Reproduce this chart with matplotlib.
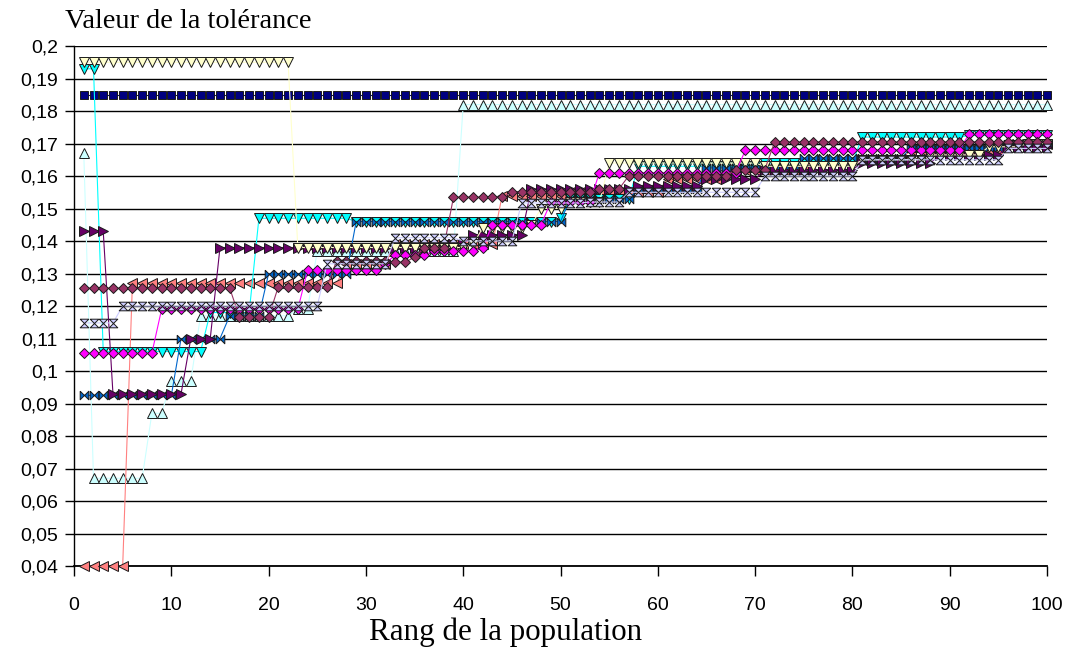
import numpy as np
import matplotlib
matplotlib.use("Agg")
import matplotlib.pyplot as plt

# rang de la population (1..100)
rang = list(range(1, 101))

y_ticks = [0.04, 0.05, 0.06, 0.07, 0.08, 0.09, 0.10, 0.11, 0.12, 0.13,
           0.14, 0.15, 0.16, 0.17, 0.18, 0.19, 0.20]
y_labels = ["0,04", "0,05", "0,06", "0,07", "0,08", "0,09", "0,1", "0,11",
            "0,12", "0,13", "0,14", "0,15", "0,16", "0,17", "0,18", "0,19", "0,2"]
x_ticks = [0, 10, 20, 30, 40, 50, 60, 70, 80, 90, 100]

navy_sq = [
    0.185, 0.185, 0.185, 0.185, 0.185, 0.185, 0.185, 0.185, 0.185, 0.185,
    0.185, 0.185, 0.185, 0.185, 0.185, 0.185, 0.185, 0.185, 0.185, 0.185,
    0.185, 0.185, 0.185, 0.185, 0.185, 0.185, 0.185, 0.185, 0.185, 0.185,
    0.185, 0.185, 0.185, 0.185, 0.185, 0.185, 0.185, 0.185, 0.185, 0.185,
    0.185, 0.185, 0.185, 0.185, 0.185, 0.185, 0.185, 0.185, 0.185, 0.185,
    0.185, 0.185, 0.185, 0.185, 0.185, 0.185, 0.185, 0.185, 0.185, 0.185,
    0.185, 0.185, 0.185, 0.185, 0.185, 0.185, 0.185, 0.185, 0.185, 0.185,
    0.185, 0.185, 0.185, 0.185, 0.185, 0.185, 0.185, 0.185, 0.185, 0.185,
    0.185, 0.185, 0.185, 0.185, 0.185, 0.185, 0.185, 0.185, 0.185, 0.185,
    0.185, 0.185, 0.185, 0.185, 0.185, 0.185, 0.185, 0.185, 0.185, 0.185]

lightcyan_up = [
    0.167, 0.067, 0.067, 0.067, 0.067, 0.067, 0.067, 0.087, 0.087, 0.097,
    0.097, 0.097, 0.117, 0.117, 0.117, 0.117, 0.117, 0.117, 0.117, 0.117,
    0.117, 0.117, 0.119, 0.119, 0.137, 0.137, 0.137, 0.137, 0.137, 0.137,
    0.137, 0.137, 0.137, 0.137, 0.137, 0.137, 0.137, 0.137, 0.137, 0.182,
    0.182, 0.182, 0.182, 0.182, 0.182, 0.182, 0.182, 0.182, 0.182, 0.182,
    0.182, 0.182, 0.182, 0.182, 0.182, 0.182, 0.182, 0.182, 0.182, 0.182,
    0.182, 0.182, 0.182, 0.182, 0.182, 0.182, 0.182, 0.182, 0.182, 0.182,
    0.182, 0.182, 0.182, 0.182, 0.182, 0.182, 0.182, 0.182, 0.182, 0.182,
    0.182, 0.182, 0.182, 0.182, 0.182, 0.182, 0.182, 0.182, 0.182, 0.182,
    0.182, 0.182, 0.182, 0.182, 0.182, 0.182, 0.182, 0.182, 0.182, 0.182]

yellow_down = [
    0.195, 0.195, 0.195, 0.195, 0.195, 0.195, 0.195, 0.195, 0.195, 0.195,
    0.195, 0.195, 0.195, 0.195, 0.195, 0.195, 0.195, 0.195, 0.195, 0.195,
    0.195, 0.195, 0.138, 0.138, 0.138, 0.138, 0.138, 0.138, 0.138, 0.138,
    0.138, 0.138, 0.138, 0.138, 0.138, 0.138, 0.138, 0.138, 0.138, 0.138,
    0.139, 0.144, 0.144, 0.144, 0.144, 0.144, 0.145, 0.150, 0.150, 0.150,
    0.152, 0.152, 0.152, 0.152, 0.164, 0.164, 0.164, 0.164, 0.164, 0.164,
    0.164, 0.164, 0.164, 0.164, 0.164, 0.164, 0.164, 0.164, 0.164, 0.164,
    0.163, 0.163, 0.163, 0.163, 0.163, 0.163, 0.163, 0.163, 0.163, 0.163,
    0.165, 0.165, 0.165, 0.165, 0.165, 0.165, 0.165, 0.1665, 0.1665, 0.1665,
    0.1665, 0.1665, 0.1665, 0.169, 0.169, 0.169, 0.169, 0.170, 0.170, 0.170]

cyan_down = [
    0.193, 0.193, 0.106, 0.106, 0.106, 0.106, 0.106, 0.106, 0.106, 0.106,
    0.106, 0.106, 0.106, 0.118, 0.118, 0.118, 0.118, 0.118, 0.147, 0.147,
    0.147, 0.147, 0.147, 0.147, 0.147, 0.147, 0.147, 0.147, 0.146, 0.146,
    0.146, 0.146, 0.146, 0.146, 0.146, 0.146, 0.146, 0.146, 0.146, 0.146,
    0.146, 0.146, 0.146, 0.146, 0.146, 0.146, 0.146, 0.146, 0.146, 0.147,
    0.153, 0.153, 0.153, 0.153, 0.153, 0.153, 0.153, 0.163, 0.163, 0.163,
    0.163, 0.163, 0.163, 0.163, 0.163, 0.163, 0.163, 0.163, 0.163, 0.163,
    0.164, 0.164, 0.164, 0.164, 0.164, 0.164, 0.164, 0.164, 0.164, 0.164,
    0.172, 0.172, 0.172, 0.172, 0.172, 0.172, 0.172, 0.172, 0.172, 0.172,
    0.172, 0.1725, 0.1725, 0.1725, 0.1725, 0.1725, 0.1725, 0.1725, 0.1725, 0.1725]

purple_right = [
    0.143, 0.143, 0.143, 0.093, 0.093, 0.093, 0.093, 0.093, 0.093, 0.093,
    0.093, 0.110, 0.110, 0.110, 0.138, 0.138, 0.138, 0.138, 0.138, 0.138,
    0.138, 0.138, 0.138, 0.138, 0.138, 0.138, 0.138, 0.138, 0.138, 0.138,
    0.138, 0.138, 0.138, 0.138, 0.138, 0.138, 0.138, 0.138, 0.139, 0.139,
    0.142, 0.142, 0.142, 0.142, 0.142, 0.142, 0.156, 0.156, 0.156, 0.156,
    0.156, 0.156, 0.156, 0.156, 0.156, 0.156, 0.156, 0.157, 0.157, 0.157,
    0.157, 0.157, 0.157, 0.157, 0.159, 0.159, 0.159, 0.159, 0.159, 0.159,
    0.162, 0.162, 0.162, 0.162, 0.162, 0.162, 0.162, 0.162, 0.162, 0.162,
    0.164, 0.164, 0.164, 0.164, 0.164, 0.164, 0.164, 0.164, 0.1665, 0.1665,
    0.1665, 0.1665, 0.1665, 0.1665, 0.1665, 0.169, 0.169, 0.169, 0.169, 0.169]

darkrose_diam = [
    0.1255, 0.1255, 0.1255, 0.1255, 0.1255, 0.1255, 0.1255, 0.1255, 0.1255, 0.1255,
    0.1255, 0.1255, 0.1255, 0.1255, 0.1255, 0.1255, 0.1166, 0.1166, 0.1166, 0.1166,
    0.126, 0.126, 0.126, 0.126, 0.126, 0.126, 0.134, 0.134, 0.134, 0.134,
    0.134, 0.134, 0.1335, 0.1335, 0.135, 0.138, 0.138, 0.138, 0.1535, 0.1535,
    0.1535, 0.1535, 0.1535, 0.1535, 0.155, 0.155, 0.155, 0.155, 0.155, 0.155,
    0.155, 0.155, 0.155, 0.156, 0.156, 0.156, 0.160, 0.160, 0.160, 0.160,
    0.160, 0.160, 0.160, 0.160, 0.160, 0.160, 0.160, 0.162, 0.162, 0.162,
    0.162, 0.1705, 0.1705, 0.1705, 0.1705, 0.1705, 0.1705, 0.1705, 0.1705, 0.1705,
    0.1705, 0.1705, 0.1705, 0.1705, 0.1705, 0.1705, 0.1705, 0.1705, 0.1705, 0.1705,
    0.1705, 0.1705, 0.1705, 0.1705, 0.1705, 0.1705, 0.1705, 0.1705, 0.1705, 0.1705]

magenta_diam = [
    0.1055, 0.1055, 0.1055, 0.1055, 0.1055, 0.1055, 0.1055, 0.1055, 0.119, 0.119,
    0.119, 0.119, 0.119, 0.119, 0.119, 0.119, 0.119, 0.119, 0.119, 0.119,
    0.119, 0.119, 0.119, 0.131, 0.131, 0.131, 0.131, 0.131, 0.131, 0.131,
    0.131, 0.133, 0.1357, 0.1357, 0.1357, 0.1357, 0.137, 0.137, 0.137, 0.137,
    0.137, 0.138, 0.145, 0.145, 0.145, 0.145, 0.145, 0.145, 0.152, 0.152,
    0.152, 0.152, 0.152, 0.161, 0.161, 0.161, 0.161, 0.161, 0.161, 0.161,
    0.161, 0.161, 0.161, 0.161, 0.161, 0.161, 0.161, 0.161, 0.168, 0.168,
    0.168, 0.168, 0.168, 0.168, 0.168, 0.168, 0.168, 0.168, 0.168, 0.168,
    0.168, 0.168, 0.168, 0.168, 0.168, 0.168, 0.168, 0.168, 0.168, 0.168,
    0.168, 0.173, 0.173, 0.173, 0.173, 0.173, 0.173, 0.173, 0.173, 0.173]

salmon_left = [
    0.040, 0.040, 0.040, 0.040, 0.040, 0.127, 0.127, 0.127, 0.127, 0.127,
    0.127, 0.127, 0.127, 0.127, 0.127, 0.127, 0.127, 0.127, 0.127, 0.127,
    0.127, 0.127, 0.127, 0.127, 0.127, 0.127, 0.127, 0.133, 0.133, 0.133,
    0.133, 0.133, 0.139, 0.139, 0.139, 0.139, 0.139, 0.139, 0.139, 0.139,
    0.139, 0.139, 0.139, 0.154, 0.154, 0.154, 0.154, 0.154, 0.154, 0.154,
    0.155, 0.155, 0.155, 0.155, 0.155, 0.155, 0.155, 0.155, 0.155, 0.155,
    0.159, 0.159, 0.159, 0.159, 0.159, 0.159, 0.162, 0.162, 0.162, 0.162,
    0.162, 0.162, 0.162, 0.162, 0.162, 0.165, 0.165, 0.165, 0.165, 0.165,
    0.165, 0.165, 0.165, 0.165, 0.165, 0.168, 0.168, 0.168, 0.168, 0.168,
    0.168, 0.168, 0.168, 0.168, 0.168, 0.170, 0.170, 0.170, 0.170, 0.170]

lavender_hg = [
    0.1148, 0.1148, 0.1148, 0.1148, 0.120, 0.120, 0.120, 0.120, 0.120, 0.120,
    0.120, 0.120, 0.120, 0.120, 0.120, 0.120, 0.120, 0.120, 0.120, 0.120,
    0.120, 0.120, 0.120, 0.120, 0.120, 0.133, 0.133, 0.133, 0.133, 0.133,
    0.133, 0.133, 0.141, 0.141, 0.141, 0.141, 0.141, 0.141, 0.141, 0.140,
    0.140, 0.140, 0.140, 0.140, 0.140, 0.1517, 0.1517, 0.1517, 0.1517, 0.1517,
    0.1517, 0.1517, 0.152, 0.152, 0.152, 0.152, 0.155, 0.155, 0.155, 0.155,
    0.155, 0.155, 0.155, 0.155, 0.155, 0.155, 0.155, 0.155, 0.155, 0.155,
    0.160, 0.160, 0.160, 0.160, 0.160, 0.160, 0.160, 0.160, 0.160, 0.160,
    0.165, 0.165, 0.165, 0.165, 0.165, 0.165, 0.165, 0.165, 0.165, 0.165,
    0.165, 0.165, 0.165, 0.165, 0.165, 0.1685, 0.1685, 0.1685, 0.1685, 0.1685]

blue_bt = [
    0.0925, 0.0925, 0.0925, 0.0925, 0.0925, 0.0925, 0.0925, 0.0925, 0.0925, 0.0925,
    0.110, 0.110, 0.110, 0.110, 0.110, 0.117, 0.117, 0.117, 0.117, 0.130,
    0.130, 0.130, 0.130, 0.130, 0.130, 0.130, 0.130, 0.130, 0.146, 0.146,
    0.146, 0.146, 0.146, 0.146, 0.146, 0.146, 0.146, 0.146, 0.146, 0.146,
    0.146, 0.146, 0.146, 0.146, 0.146, 0.146, 0.146, 0.146, 0.146, 0.146,
    0.153, 0.153, 0.153, 0.153, 0.153, 0.153, 0.153, 0.156, 0.156, 0.156,
    0.156, 0.156, 0.156, 0.156, 0.1625, 0.1625, 0.1625, 0.1625, 0.1625, 0.1625,
    0.1625, 0.1625, 0.1625, 0.1625, 0.1655, 0.1655, 0.1655, 0.1655, 0.1655, 0.1655,
    0.1655, 0.1655, 0.1655, 0.1655, 0.1655, 0.1686, 0.1686, 0.1686, 0.1686, 0.1686,
    0.1686, 0.1686, 0.1686, 0.1686, 0.1686, 0.170, 0.170, 0.170, 0.170, 0.170]

# excel style markers
hourglass = [(-1, 1), (1, 1), (-1, -1), (1, -1), (-1, 1)]
bowtie = [(-1, 1), (-1, -1), (1, 1), (1, -1), (-1, 1)]

series = [
    (navy_sq, "#000080", "s", 5.8),
    (lightcyan_up, "#CCFFFF", "^", 6.6),
    (salmon_left, "#FF8080", "<", 6.6),
    (cyan_down, "#00FFFF", "v", 6.6),
    (blue_bt, "#0066CC", bowtie, 6.2),
    (purple_right, "#660066", ">", 6.6),
    (yellow_down, "#FFFFCC", "v", 6.6),
    (magenta_diam, "#FF00FF", "D", 4.7),
    (darkrose_diam, "#993366", "D", 4.7),
    (lavender_hg, "#CCCCFF", hourglass, 6.2),
]


def plot():
    fig = plt.figure(figsize=(10.7, 6.52), dpi=100)
    ax = fig.add_axes([0.0692, 0.1319, 0.9093, 0.7975])

    for i, (vals, col, mk, ms) in enumerate(series):
        ax.plot(rang, vals, color=col, lw=0.8, marker=mk, ms=ms,
                mfc=col, mec="#1a1a1a", mew=0.7, clip_on=False, zorder=3 + i)

    ax.set_xlim(0, 100)
    ax.set_ylim(0.04, 0.2)
    ax.set_xticks(x_ticks)
    ax.set_xticklabels([str(t) for t in x_ticks])
    ax.set_yticks(y_ticks)
    ax.set_yticklabels(y_labels)
    ax.yaxis.grid(True, color="black", lw=1.0)
    ax.set_axisbelow(True)
    for s in ["top", "right"]:
        ax.spines[s].set_visible(False)
    ax.spines["left"].set_linewidth(1.0)
    ax.spines["bottom"].set_linewidth(1.3)
    ax.tick_params(axis="x", length=7, width=1, pad=15, labelsize=14)
    ax.tick_params(axis="y", length=6.5, width=1, pad=5, labelsize=14)
    for lab in ax.get_xticklabels() + ax.get_yticklabels():
        lab.set_fontfamily("Liberation Sans")

    fig.text(65 / 1070, 1 - 28 / 652, "Valeur de la tolérance",
             family="Liberation Serif", fontsize=20.4, va="baseline", ha="left")
    fig.text(506 / 1070, 1 - 640 / 652, "Rang de la population",
             family="Liberation Serif", fontsize=22.3, va="baseline", ha="center")

    plt.savefig("out.png", dpi=100)


if __name__ == "__main__":
    plot()
